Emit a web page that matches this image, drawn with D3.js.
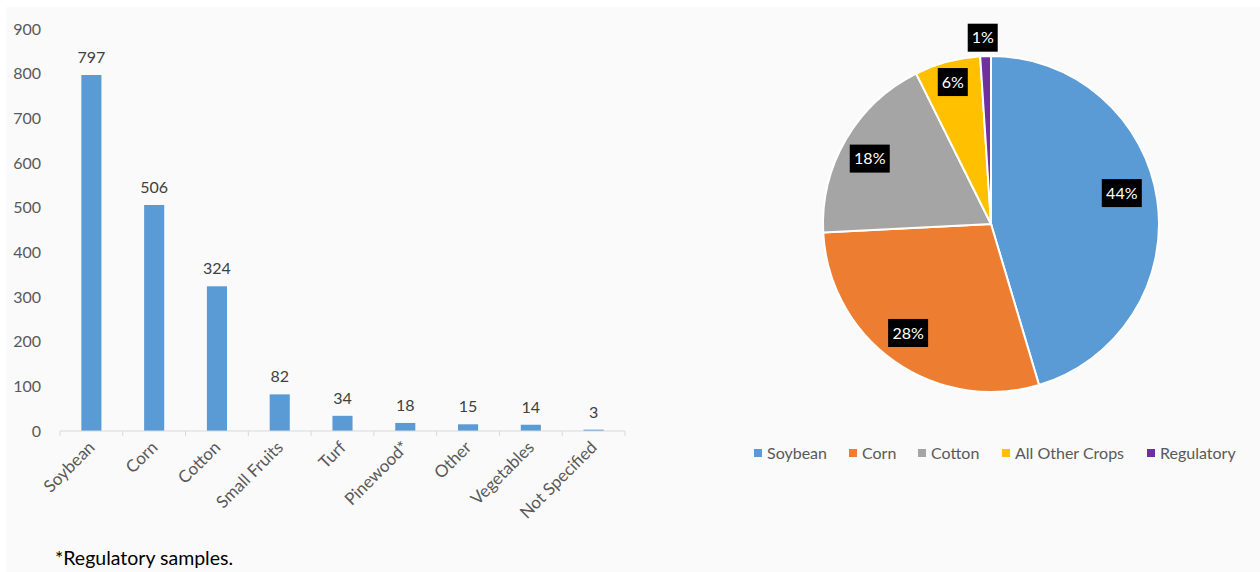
<!DOCTYPE html>
<html>
<head>
<meta charset="utf-8">
<script src="https://cdn.jsdelivr.net/npm/d3@7"></script>
<style>
  body { margin: 0; background: #fff; }
  svg text { font-family: Lato, "Open Sans", sans-serif; }
</style>
</head>
<body>
<svg id="chart" width="1260" height="572"></svg>
<script>
// bar chart data
const categories = ['Soybean', 'Corn', 'Cotton', 'Small Fruits', 'Turf', 'Pinewood*', 'Other', 'Vegetables', 'Not Specified'];
const counts = [797, 506, 324, 82, 34, 18, 15, 14, 3];
const yTicks = [0, 100, 200, 300, 400, 500, 600, 700, 800, 900];

// pie chart data
const pieGroups = ['Soybean', 'Corn', 'Cotton', 'All Other Crops', 'Regulatory'];
const pieValues = [797, 506, 324, 111, 18];
const pieLabels = ['44%', '28%', '18%', '6%', '1%'];
const pieColors = ['#5b9bd5', '#ed7d31', '#a5a5a5', '#ffc000', '#7030a0'];

const svg = d3.select('#chart');

// grey panel
svg.append('rect')
  .attr('x', 6).attr('y', 7)
  .attr('width', 1254).attr('height', 565)
  .attr('fill', '#fafafa');

// ---- bar chart ----
const x = d3.scaleBand()
  .domain(categories)
  .range([60, 625])
  .paddingInner(0.68)
  .paddingOuter(0.34);

const y = d3.scaleLinear()
  .domain([0, 900])
  .range([431, 29]);

const bars = svg.append('g');

bars.selectAll('rect')
  .data(counts)
  .enter()
  .append('rect')
  .attr('x', (d, i) => x(categories[i]))
  .attr('y', d => y(d))
  .attr('width', x.bandwidth())
  .attr('height', d => y(0) - y(d))
  .attr('fill', '#5b9bd5');

bars.selectAll('text.val')
  .data(counts)
  .enter()
  .append('text')
  .attr('class', 'val')
  .attr('x', (d, i) => x(categories[i]) + x.bandwidth() / 2)
  .attr('y', d => y(d) - 12)
  .attr('text-anchor', 'middle')
  .attr('font-size', 16)
  .attr('fill', '#404040')
  .text(d => d);

// y axis labels, no line
const yAxis = svg.append('g')
  .attr('transform', 'translate(41,0)')
  .call(d3.axisLeft(y).tickValues(yTicks).tickSize(0).tickPadding(0));
yAxis.select('.domain').remove();
yAxis.selectAll('text')
  .attr('font-size', 16)
  .attr('fill', '#595959')
  .attr('font-family', 'Lato, sans-serif');

// x axis: line + boundary ticks
const step = x.step();
const xAxis = svg.append('g');
xAxis.append('line')
  .attr('x1', 60).attr('x2', 625)
  .attr('y1', y(0)).attr('y2', y(0))
  .attr('stroke', '#d9d9d9');
xAxis.selectAll('line.tk')
  .data(d3.range(categories.length + 1))
  .enter()
  .append('line')
  .attr('class', 'tk')
  .attr('x1', i => 60 + i * step)
  .attr('x2', i => 60 + i * step)
  .attr('y1', y(0)).attr('y2', y(0) + 5)
  .attr('stroke', '#d9d9d9');

xAxis.selectAll('text')
  .data(categories)
  .enter()
  .append('text')
  .attr('transform', d => `translate(${x(d) + x.bandwidth() / 2 - 4},${y(0) + 9}) rotate(-45)`)
  .attr('text-anchor', 'end')
  .attr('dy', '0.7em')
  .attr('font-size', 17)
  .attr('fill', '#595959')
  .text(d => d);

svg.append('text')
  .attr('x', 55).attr('y', 565)
  .attr('font-size', 19.5)
  .attr('fill', '#000')
  .text('*Regulatory samples.');

// ---- pie chart ----
const cx = 991, cy = 224, r = 168;

const pie = d3.pie().sort(null).value(d => d);
const arcs = pie(pieValues);
const arc = d3.arc().innerRadius(0).outerRadius(r);

const pg = svg.append('g').attr('transform', `translate(${cx},${cy})`);

pg.selectAll('path')
  .data(arcs)
  .enter()
  .append('path')
  .attr('d', arc)
  .attr('fill', (d, i) => pieColors[i])
  .attr('stroke', '#fff')
  .attr('stroke-width', 2);

// label placement: radius fraction and angle nudge (deg) per slice, like Excel best-fit
const labelRadius = [0.8, 0.815, 0.82, 0.875, 1.11];
const labelNudge = [-5, 2, -2, 0, -0.7];
const lbl = pg.selectAll('g.lbl')
  .data(arcs)
  .enter()
  .append('g')
  .attr('class', 'lbl')
  .attr('transform', (d, i) => {
    const a = (d.startAngle + d.endAngle) / 2 + labelNudge[i] * Math.PI / 180;
    const rr = r * labelRadius[i];
    return `translate(${Math.sin(a) * rr},${-Math.cos(a) * rr})`;
  });

lbl.append('rect')
  .attr('x', (d, i) => pieLabels[i].length > 2 ? -20 : -15)
  .attr('y', -14)
  .attr('width', (d, i) => pieLabels[i].length > 2 ? 40 : 30)
  .attr('height', 28)
  .attr('fill', '#000');

lbl.append('text')
  .attr('text-anchor', 'middle')
  .attr('dy', '0.36em')
  .attr('font-size', 16)
  .attr('fill', '#fff')
  .text((d, i) => pieLabels[i]);

// legend
const legendX = [754, 849, 918, 1002, 1147];
const lg = svg.append('g')
  .selectAll('g')
  .data(pieGroups)
  .enter()
  .append('g')
  .attr('transform', (d, i) => `translate(${legendX[i]},453)`);

lg.append('rect')
  .attr('x', 0).attr('y', -4)
  .attr('width', 8).attr('height', 8)
  .attr('fill', (d, i) => pieColors[i]);

lg.append('text')
  .attr('x', 13)
  .attr('dy', '0.35em')
  .attr('font-size', 16)
  .attr('fill', '#595959')
  .text(d => d);
</script>
</body>
</html>
